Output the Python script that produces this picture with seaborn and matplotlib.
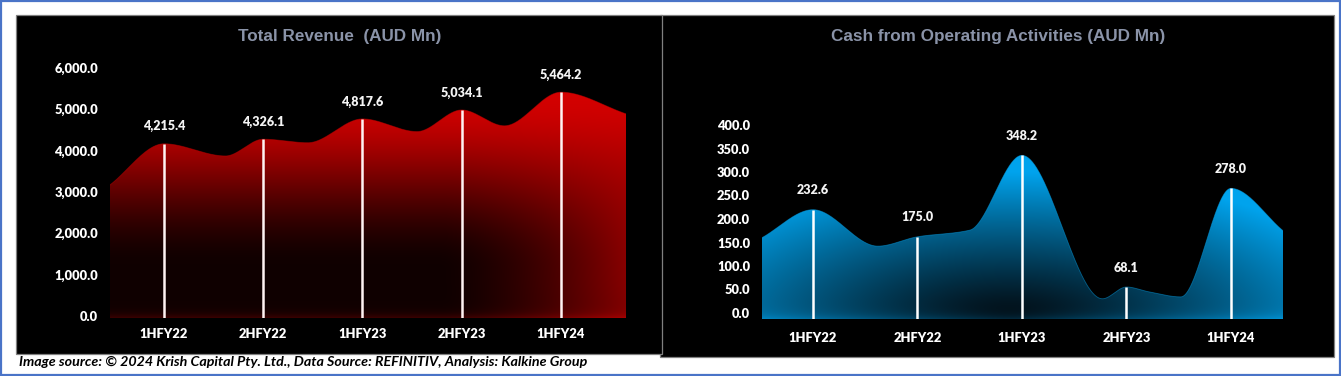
import numpy as np
import pandas as pd
import matplotlib
matplotlib.use("Agg")
import matplotlib.pyplot as plt
import seaborn as sns
from matplotlib import font_manager
from matplotlib.patches import Rectangle, PathPatch
from matplotlib.path import Path
from matplotlib.transforms import ScaledTranslation

# ---------------- data ----------------
categories = ["1HFY22", "2HFY22", "1HFY23", "2HFY23", "1HFY24"]
revenue = [4215.4, 4326.1, 4817.6, 5034.1, 5464.2]
cash_ops = [232.6, 175.0, 348.2, 68.1, 278.0]
rev_ticks = [0, 1000, 2000, 3000, 4000, 5000, 6000]
cash_ticks = [0, 50, 100, 150, 200, 250, 300, 350, 400]
rev_title = "Total Revenue  (AUD Mn)"
cash_title = "Cash from Operating Activities (AUD Mn)"
footer = "Image source: \u00a9 2024 Krish Capital Pty. Ltd., Data Source: REFINITIV, Analysis: Kalkine Group"

# decorative wave outline: extra points (category position, value)
rev_shape_pos = [-0.544, 0.62, 1.45, 2.55, 3.43, 4.655]
rev_shape_val = [3220, 3920, 4240, 4510, 4650, 4940]
cash_shape_pos = [-0.488, 0.62, 1.5, 2.77, 3.21, 3.52, 4.498]
cash_shape_val = [173, 155, 189, 43, 58, 47, 188]

# ---------------- fonts ----------------
sns.set_theme(style="dark")
names = {f.name for f in font_manager.fontManager.ttflist}
NARROW = "Liberation Sans Narrow" if "Liberation Sans Narrow" in names else None
plt.rcParams["font.family"] = ["Lato", "DejaVu Sans"]

W, H = 1341, 376
fig = plt.figure(figsize=(W / 100, H / 100), dpi=100)
fig.patch.set_facecolor("white")


def fx(px):
    return px / W


def fy(py):
    return 1 - py / H


# outer blue border
fig.add_artist(Rectangle((fx(1), fy(375)), fx(1339), (374) / H, transform=fig.transFigure,
                         facecolor="none", edgecolor="#4a74c8", lw=1.6, zorder=5))
# black panels
fig.add_artist(Rectangle((fx(660), fy(357)), fx(1334 - 660), (357 - 15) / H, transform=fig.transFigure,
                         facecolor="black", edgecolor="#808080", lw=0.9, zorder=0))
fig.add_artist(Rectangle((fx(16), fy(354)), fx(662 - 16), (354 - 15) / H, transform=fig.transFigure,
                         facecolor="black", edgecolor="#808080", lw=0.9, zorder=0))


def pchip(x, y, xn):
    x = np.asarray(x, float)
    y = np.asarray(y, float)
    h = np.diff(x)
    delta = np.diff(y) / h
    n = len(x)
    d = np.zeros(n)
    for k in range(1, n - 1):
        if delta[k - 1] * delta[k] > 0:
            w1 = 2 * h[k] + h[k - 1]
            w2 = h[k] + 2 * h[k - 1]
            d[k] = (w1 + w2) / (w1 / delta[k - 1] + w2 / delta[k])
    d[0] = delta[0]
    d[-1] = delta[-1]
    idx = np.clip(np.searchsorted(x, xn) - 1, 0, n - 2)
    t = (xn - x[idx]) / h[idx]
    h00 = 2 * t**3 - 3 * t**2 + 1
    h10 = t**3 - 2 * t**2 + t
    h01 = -2 * t**3 + 3 * t**2
    h11 = t**3 - t**2
    return h00 * y[idx] + h10 * h[idx] * d[idx] + h01 * y[idx + 1] + h11 * h[idx] * d[idx + 1]


def panel(left_px, right_px, base_px, top_px, xlim, ymax, values, shape_pos, shape_val,
          ticks, title, title_x, colorfun, line_col, label_off, tick_shift, xpad, edge_col):
    ax = fig.add_axes([fx(left_px), fy(base_px), fx(right_px - left_px), (base_px - top_px) / H])
    ax.set_zorder(1)
    ax.patch.set_visible(False)
    ax.set_xlim(*xlim)
    ax.set_ylim(0, ymax)
    pos = np.arange(len(values))
    sx = np.concatenate([pos, shape_pos])
    sy = np.concatenate([values, shape_val])
    order = np.argsort(sx)
    sx, sy = sx[order], sy[order]
    xs = np.linspace(xlim[0], xlim[1], 800)
    ys = pchip(sx, sy, xs)
    df = pd.DataFrame({"x": xs, "y": ys})

    verts = np.concatenate([[[xs[0], 0]], np.column_stack([xs, ys]), [[xs[-1], 0]]])
    patch = PathPatch(Path(verts), facecolor="none", edgecolor="none", transform=ax.transData)
    ax.add_patch(patch)

    nx, ny = 500, 300
    px = np.linspace(left_px, right_px, nx)
    py = np.linspace(top_px, base_px, ny)
    PX, PY = np.meshgrid(px, py)
    img = colorfun(PX, PY, base_px)
    im = ax.imshow(img, extent=(xlim[0], xlim[1], 0, ymax), origin="upper", aspect="auto",
                   zorder=1, interpolation="bilinear")
    im.set_clip_path(patch)

    sns.lineplot(data=df, x="x", y="y", ax=ax, color=edge_col, lw=0.6, alpha=0.5, zorder=2)

    ax.vlines(pos, 0, values, colors=line_col, lw=1.8, zorder=3)
    for p, v in zip(pos, values):
        ax.annotate(f"{v:,.1f}", (p, v), xytext=(0, label_off), textcoords="offset points",
                    ha="center", va="center", color="#f4f4f4", fontsize=9, fontweight="heavy",
                    family=["Lato", "DejaVu Sans"])

    ax.set_xticks(pos)
    ax.set_xticklabels(categories)
    ax.set_yticks(ticks)
    ax.set_yticklabels([f"{t:,.1f}" for t in ticks])
    ax.tick_params(axis="both", length=0, colors="white", labelsize=9.3)
    ax.tick_params(axis="y", pad=8.5)
    ax.tick_params(axis="x", pad=xpad)
    for lab in ax.get_xticklabels() + ax.get_yticklabels():
        lab.set_fontweight("heavy")
        lab.set_color("white")
    off = ScaledTranslation(0, tick_shift / 100, fig.dpi_scale_trans)
    for lab in ax.get_yticklabels():
        lab.set_transform(lab.get_transform() + off)
    ax.set_xlabel("")
    ax.set_ylabel("")
    ax.grid(False)
    for s in ax.spines.values():
        s.set_visible(False)

    fig.text(fx(title_x), fy(37), title, ha="center", va="center", color="#8a93a8",
             fontsize=12.3, fontweight="bold", family=["Liberation Sans", "DejaVu Sans"])
    return ax


def red_color(PX, PY, base):
    # vertical fade from bright red at the crest to near-black low down
    s = np.clip((270.0 - PY) / 180.0, 0, 1)
    tv = s * s * (3 - 2 * s)
    # soft glow in the lower right corner
    dx = PX - 700.0
    dy = (PY - 260.0) / 1.3
    tr = np.clip(1 - np.sqrt(dx**2 + dy**2) / 260.0, 0, 1) ** 1.5
    t = 1 - (1 - tv) * (1 - tr)
    t = np.clip(t + 0.22 * np.exp(-(base - PY) / 4.0), 0, 1)
    dark = np.array([0.06, 0.0, 0.0])
    red = np.array([0.83, 0.0, 0.0])
    return dark + t[..., None] * (red - dark)


def blue_color(PX, PY, base):
    cx, cy = 1010.0, 322.0
    dx = PX - cx
    r = np.sqrt((dx / 2.5) ** 2 + (PY - cy) ** 2) / 150.0
    t = np.clip(r, 0, 1) ** 1.2
    t = np.clip(t + 0.2 * np.exp(-(base - PY) / 5.0), 0, 1)
    dark = np.array([0.01, 0.03, 0.05])
    blue = np.array([0.0, 0.64, 0.93])
    return dark + t[..., None] * (blue - dark)


panel(110, 626, 318, 70, (-0.544, 4.655), 6000, revenue, rev_shape_pos, rev_shape_val,
      rev_ticks, rev_title, 340, red_color, "#fff2f2", 12.5, 2, 7.5, "#c00000")
panel(762, 1283, 319, 131, (-0.488, 4.498), 400, cash_ops, cash_shape_pos, cash_shape_val,
      cash_ticks, cash_title, 998, blue_color, "white", 14, 6, 9, "#06a0e6")

if NARROW:
    fig.text(fx(19), fy(362), footer, ha="left", va="center", color="black", fontsize=12,
             fontweight="bold", fontstyle="italic", family=[NARROW, "DejaVu Sans"])
else:
    fig.text(fx(19), fy(362), footer, ha="left", va="center", color="black", fontsize=10.3,
             fontweight="bold", fontstyle="italic", family=["Lato", "DejaVu Sans"])

fig.savefig("out.png", dpi=100, facecolor="white")
